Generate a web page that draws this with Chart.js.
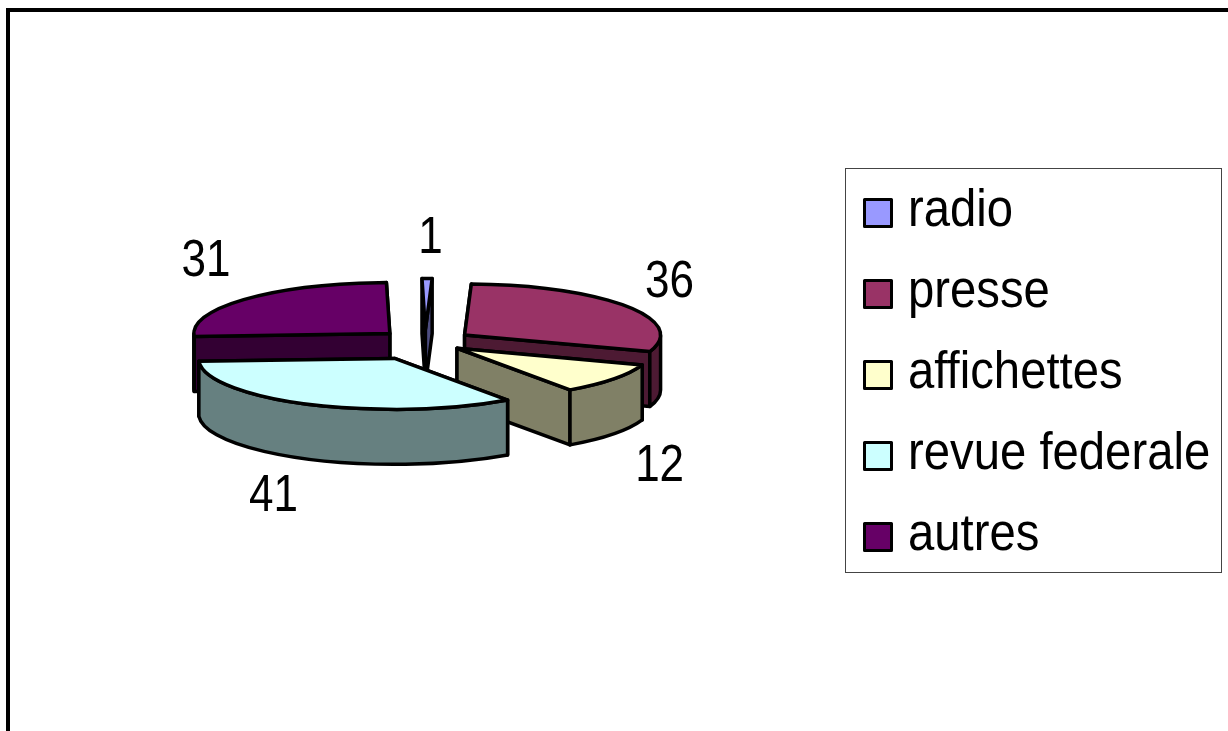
<!DOCTYPE html>
<html>
<head>
<meta charset="utf-8">
<style>html,body{margin:0;padding:0;background:#fff;overflow:hidden}canvas{display:block}</style>
<script src="https://cdn.jsdelivr.net/npm/chart.js@4/dist/chart.umd.min.js"></script>
</head>
<body>
<canvas id="c" width="1228" height="731"></canvas>
<script>
const categories = ['radio', 'presse', 'affichettes', 'revue federale', 'autres'];
const values = [1, 36, 12, 41, 31];
const topColors = ['#9999ff', '#993366', '#ffffcc', '#ccffff', '#660066'];
const sideColors = ['#4d4d80', '#4d1a33', '#808066', '#668080', '#330033'];
const explode = [48, 48, 40, 70, 48];
const labelNudges = [[3, 0], [-2, 10], [2, 4], [-12, 5], [0, -2]];

const SQUASH = 0.26, DEPTH = 55, LINE = 3.5, FONT = '51px "Liberation Sans", Arial, sans-serif';

function geom(el) {
  const mid = (el.startAngle + el.endAngle) / 2, off = el.options.offset;
  return {
    x: el.x + off * Math.cos(mid), y: el.y + off * Math.sin(mid) * SQUASH,
    a0: el.startAngle, a1: el.endAngle, rx: el.outerRadius, ry: el.outerRadius * SQUASH, mid
  };
}
function paint(ctx, color) {
  ctx.fillStyle = color; ctx.fill();
  ctx.strokeStyle = '#000'; ctx.lineWidth = LINE; ctx.lineJoin = 'round'; ctx.stroke();
}
function radialFace(ctx, g, a, color) {
  const px = g.x + g.rx * Math.cos(a), py = g.y + g.ry * Math.sin(a);
  ctx.beginPath();
  ctx.moveTo(g.x, g.y); ctx.lineTo(px, py);
  ctx.lineTo(px, py + DEPTH); ctx.lineTo(g.x, g.y + DEPTH);
  ctx.closePath();
  paint(ctx, color);
}
function rimFace(ctx, g, color) {
  const T = Math.PI * 2;
  for (let k = -1; k <= 1; k++) {
    const s = Math.max(g.a0, k * T), e = Math.min(g.a1, k * T + Math.PI);
    if (e <= s) continue;
    ctx.beginPath();
    ctx.ellipse(g.x, g.y, g.rx, g.ry, 0, s, e);
    ctx.ellipse(g.x, g.y + DEPTH, g.rx, g.ry, 0, e, s, true);
    ctx.closePath();
    paint(ctx, color);
  }
}
function topFace(ctx, g, color) {
  ctx.beginPath();
  ctx.moveTo(g.x, g.y);
  ctx.ellipse(g.x, g.y, g.rx, g.ry, 0, g.a0, g.a1);
  ctx.closePath();
  paint(ctx, color);
}
function wideText(ctx, text, x, y, sx) {
  ctx.save();
  ctx.translate(x, y);
  ctx.scale(sx, 1);
  ctx.fillText(text, 0, 0);
  ctx.restore();
}

const frame3d = {
  id: 'frame3d',
  beforeDraw(chart) {
    const ctx = chart.ctx;
    ctx.save();
    ctx.fillStyle = '#000';
    ctx.fillRect(6, 8, 1222, 4);
    ctx.fillRect(6, 8, 4, 723);
    ctx.restore();
  },
  beforeDatasetsDraw(chart) {
    const ctx = chart.ctx, arcs = chart.getDatasetMeta(0).data;
    const items = arcs.map((el, i) => ({ i, g: geom(el) })).sort((a, b) => a.g.y - b.g.y);
    ctx.save();
    for (const { i, g } of items) {
      const faces = [g.a0, g.a1].sort((p, q) => Math.sin(p) - Math.sin(q));
      faces.forEach(a => radialFace(ctx, g, a, sideColors[i]));
      rimFace(ctx, g, sideColors[i]);
      topFace(ctx, g, topColors[i]);
    }
    ctx.restore();
    return false;
  },
  afterDraw(chart) {
    const ctx = chart.ctx, arcs = chart.getDatasetMeta(0).data;
    ctx.save();
    ctx.font = FONT; ctx.textBaseline = 'middle'; ctx.textAlign = 'center'; ctx.fillStyle = '#000';
    arcs.forEach((el, i) => {
      const g = geom(el), r = g.rx + 55, s = Math.sin(g.mid);
      const lx = g.x + r * Math.cos(g.mid) + labelNudges[i][0];
      const ly = g.y + r * s * SQUASH + (s > 0 ? 75 : -25) + labelNudges[i][1];
      wideText(ctx, String(values[i]), lx, ly, 0.863);
    });
    ctx.strokeStyle = '#444'; ctx.lineWidth = 1;
    ctx.strokeRect(845.5, 168.5, 376, 404);
    ctx.textAlign = 'left';
    categories.forEach((name, i) => {
      const cy = 213 + i * 81;
      ctx.fillStyle = topColors[i]; ctx.fillRect(864.5, cy - 13.5, 27, 27);
      ctx.strokeStyle = '#000'; ctx.lineWidth = 3; ctx.lineJoin = 'round';
      ctx.strokeRect(864.5, cy - 13.5, 27, 27);
      ctx.fillStyle = '#000';
      wideText(ctx, name, 908, cy - 1, 0.927);
    });
    ctx.restore();
  }
};

new Chart(document.getElementById('c'), {
  type: 'pie',
  data: {
    labels: categories,
    datasets: [{ data: values, backgroundColor: topColors, borderColor: '#000', borderWidth: LINE, offset: explode }]
  },
  options: {
    responsive: false,
    animation: false,
    radius: 196,
    rotation: -1,
    layout: { padding: { right: 378, bottom: 47 } },
    plugins: { legend: { display: false }, tooltip: { enabled: false }, title: { display: false } }
  },
  plugins: [frame3d]
});
</script>
</body>
</html>
